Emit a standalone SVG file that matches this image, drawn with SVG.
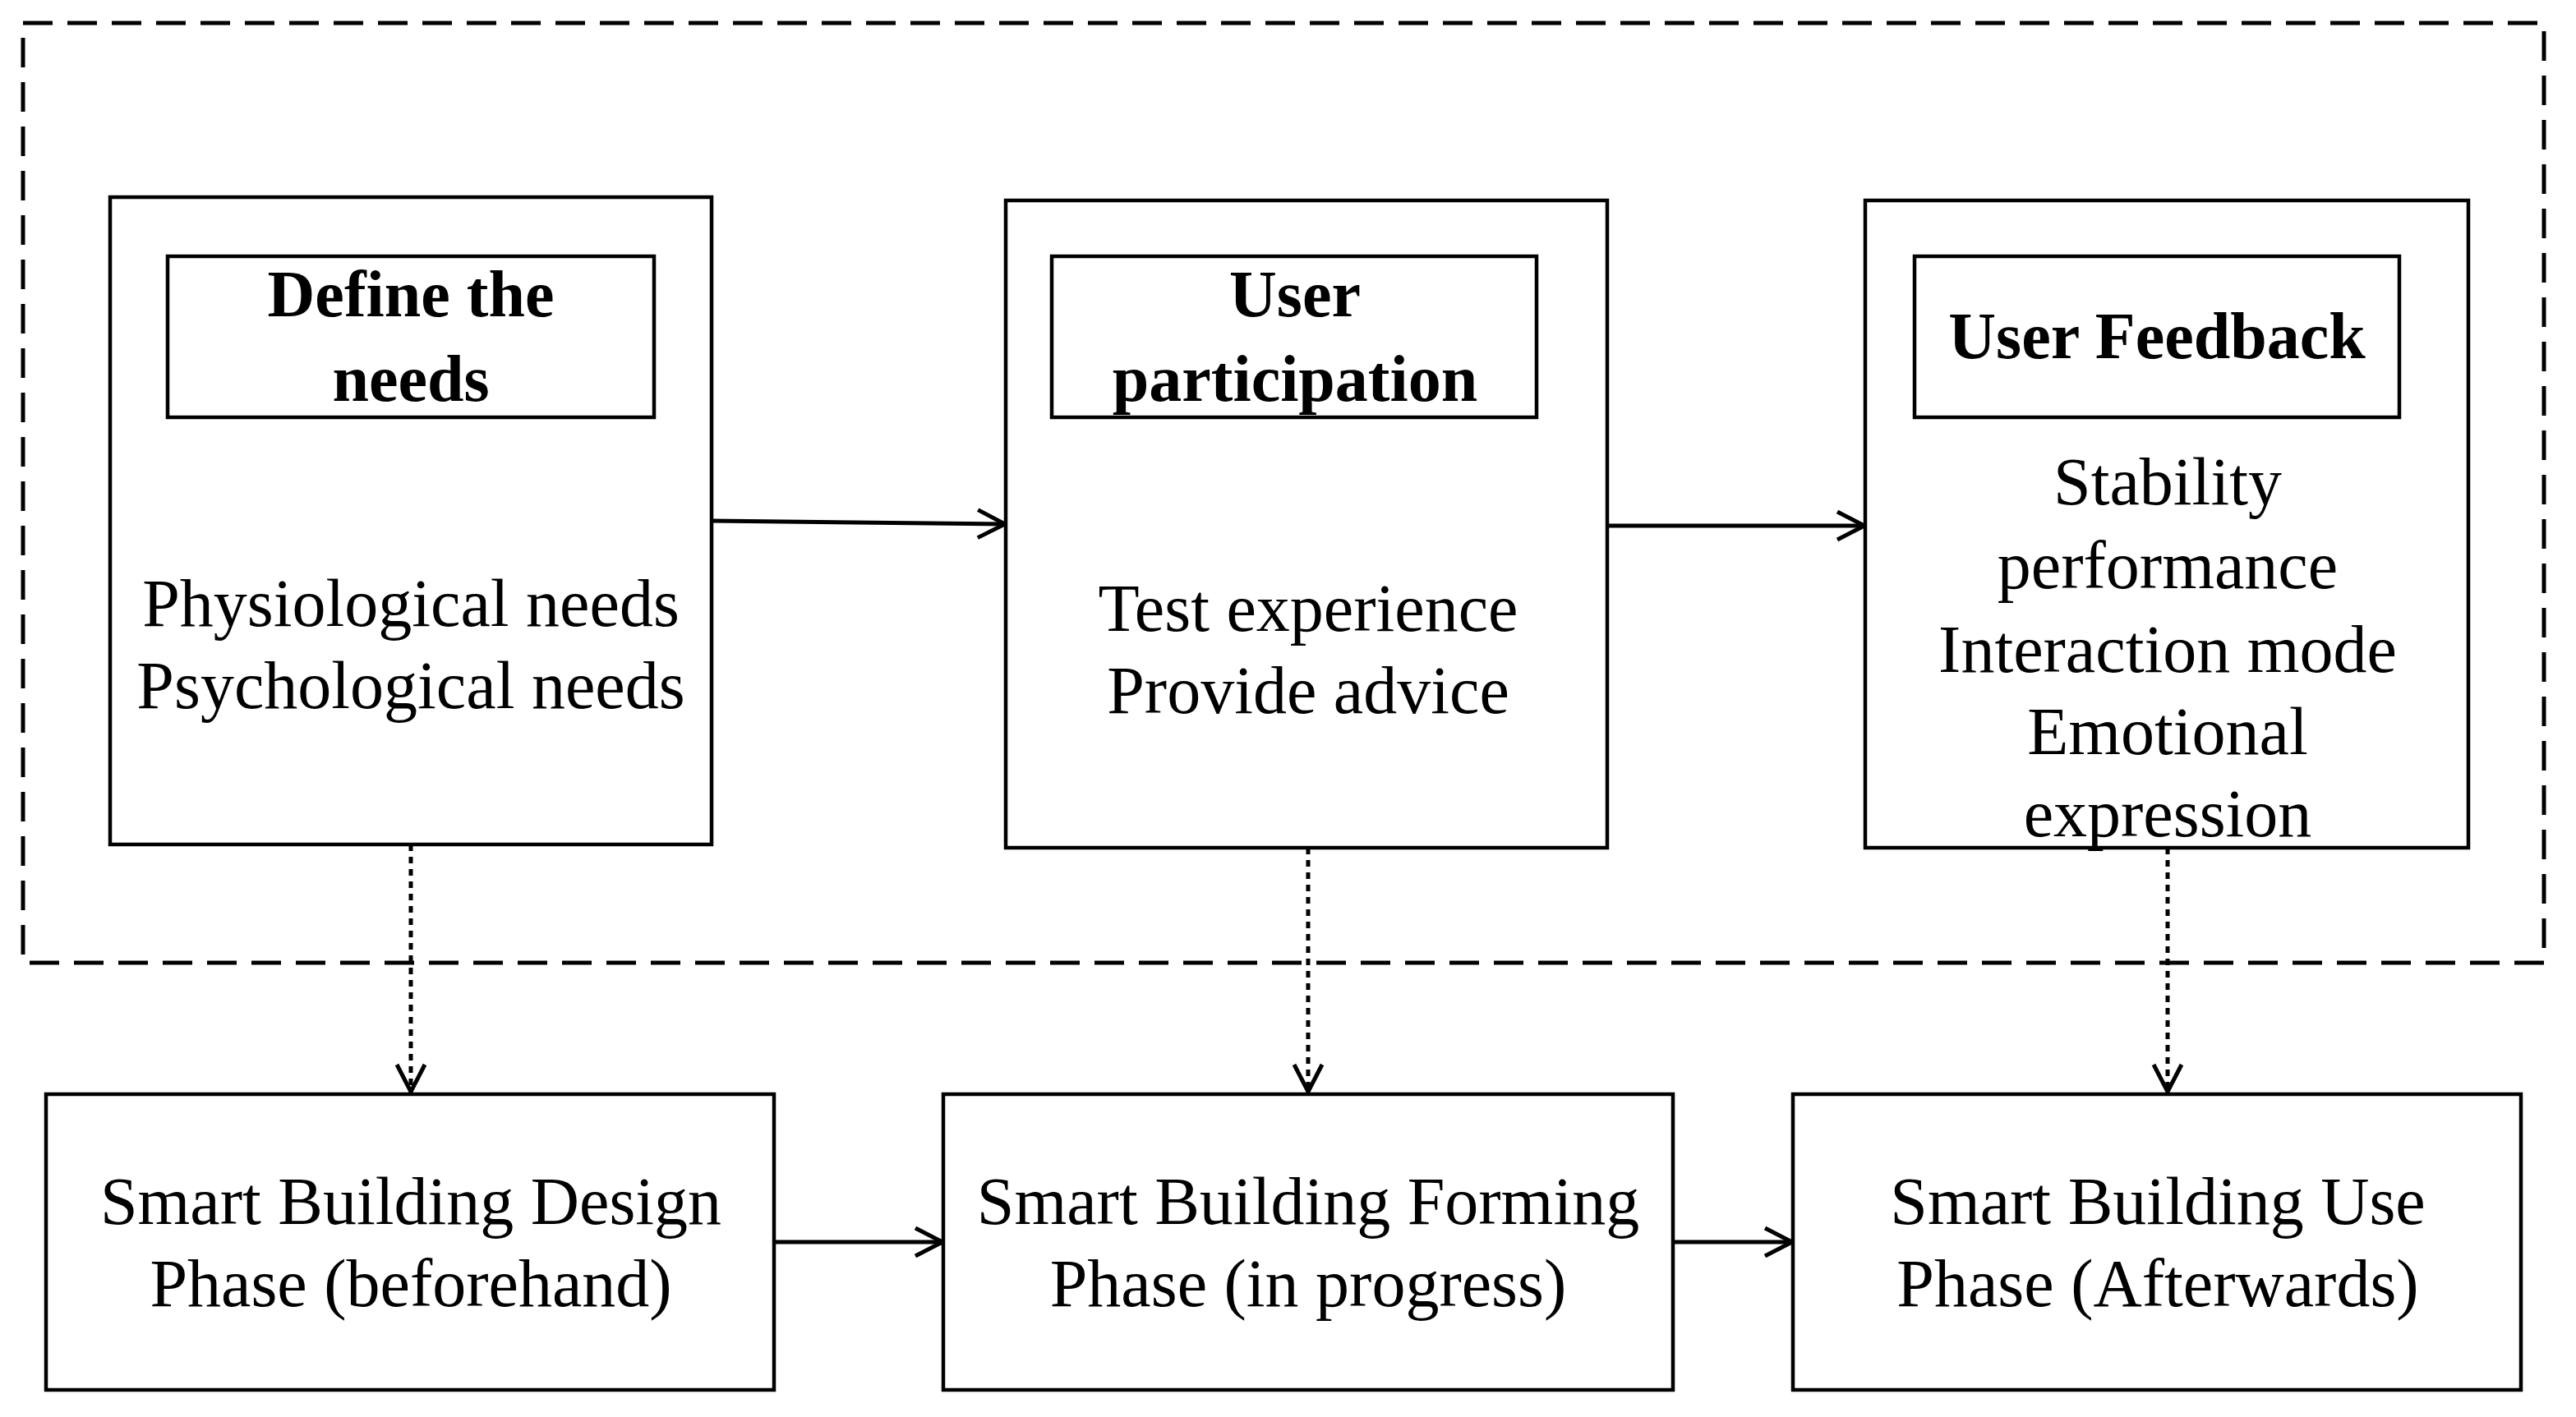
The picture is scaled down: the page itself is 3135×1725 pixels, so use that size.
<svg xmlns="http://www.w3.org/2000/svg" width="3135" height="1725" viewBox="0 0 3135 1725">
<style>
.b{fill:#fff;stroke:#000;stroke-width:4.5}
.t{font-family:"Liberation Serif","Times New Roman",serif;font-size:82px;text-anchor:middle;fill:#000}
.tb{font-family:"Liberation Serif","Times New Roman",serif;font-size:80px;font-weight:bold;text-anchor:middle;fill:#000}
.c{fill:none;stroke:#000;stroke-width:5}
.d{stroke-dasharray:8 7}
</style>
<defs><marker id="a2" viewBox="0 0 40 40" refX="38" refY="20" markerWidth="40" markerHeight="40" markerUnits="userSpaceOnUse" orient="auto"><path d="M4 3 L37 20 L4 37" fill="none" stroke="#000" stroke-width="5"/></marker></defs>
<rect x="28" y="28" width="3068" height="1144" fill="none" stroke="#000" stroke-width="5" stroke-dasharray="36 18"/>
<g id="n1"><rect class="b" x="134" y="240" width="732" height="788"/><rect class="b" x="204" y="312" width="592" height="196"/>
<text class="tb" x="500" y="385">Define the</text><text class="tb" x="500" y="488">needs</text>
<text class="t" x="500" y="762">Physiological needs</text><text class="t" x="500" y="862">Psychological needs</text></g>
<g id="n2"><rect class="b" x="1224" y="244" width="732" height="788"/><rect class="b" x="1280" y="312" width="590" height="196"/>
<text class="tb" x="1576" y="385">User</text><text class="tb" x="1576" y="488">participation</text>
<text class="t" x="1592" y="768">Test experience</text><text class="t" x="1592" y="868">Provide advice</text></g>
<g id="n3"><rect class="b" x="2270" y="244" width="734" height="788"/><rect class="b" x="2330" y="312" width="590" height="196"/>
<text class="tb" x="2625" y="436">User Feedback</text>
<text class="t" x="2638" y="614">Stability</text><text class="t" x="2638" y="716">performance</text><text class="t" x="2638" y="818">Interaction mode</text><text class="t" x="2638" y="918">Emotional</text><text class="t" x="2638" y="1018">expression</text></g>
<g id="n4"><rect class="b" x="56" y="1332" width="886" height="360"/><text class="t" x="500" y="1490">Smart Building Design</text><text class="t" x="500" y="1590">Phase (beforehand)</text></g>
<g id="n5"><rect class="b" x="1148" y="1332" width="888" height="360"/><text class="t" x="1592" y="1490">Smart Building Forming</text><text class="t" x="1592" y="1590">Phase (in progress)</text></g>
<g id="n6"><rect class="b" x="2182" y="1332" width="886" height="360"/><text class="t" x="2626" y="1490">Smart Building Use</text><text class="t" x="2626" y="1590">Phase (Afterwards)</text></g>
<g id="connectors">
<line class="c" x1="866" y1="634" x2="1224" y2="638" marker-end="url(#a2)"/>
<line class="c" x1="1956" y1="640" x2="2270" y2="640" marker-end="url(#a2)"/>
<line class="c" x1="942" y1="1512" x2="1148" y2="1512" marker-end="url(#a2)"/>
<line class="c" x1="2036" y1="1512" x2="2182" y2="1512" marker-end="url(#a2)"/>
<line class="c d" x1="500" y1="1028" x2="500" y2="1330" marker-end="url(#a2)"/>
<line class="c d" x1="1592" y1="1032" x2="1592" y2="1330" marker-end="url(#a2)"/>
<line class="c d" x1="2638" y1="1032" x2="2638" y2="1330" marker-end="url(#a2)"/>
</g>
</svg>
